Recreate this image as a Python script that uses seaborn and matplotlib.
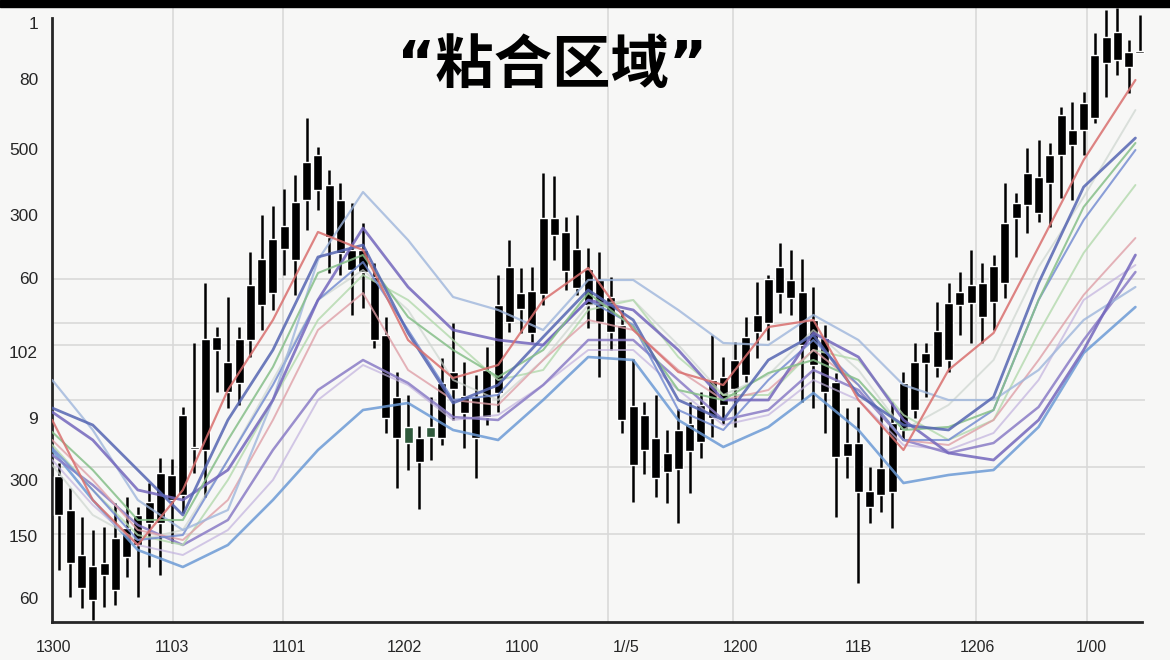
import numpy as np
import pandas as pd
import matplotlib.pyplot as plt
import seaborn as sns
from matplotlib.patches import Rectangle

# ---- candles (97 bars) ----
candle_high = [177, 152, 123, 110, 113, 137, 143, 133, 157, 182,
               181, 233, 297, 357, 313, 343, 313, 388, 425, 434,
               451, 465, 522, 493, 470, 457, 437, 417, 377, 323,
               268, 245, 214, 243, 282, 317, 278, 265, 293, 365,
               400, 372, 373, 467, 464, 423, 425, 392, 388, 363,
               330, 281, 238, 245, 210, 231, 238, 248, 305, 283,
               298, 323, 358, 365, 397, 390, 381, 353, 315, 267,
               232, 233, 173, 227, 238, 268, 297, 297, 338, 357,
               368, 390, 377, 385, 457, 447, 492, 500, 497, 533,
               538, 548, 607, 630, 632, 600, 625]
candle_low = [70, 43, 32, 20, 33, 35, 63, 43, 73, 65,
              97, 127, 167, 143, 248, 232, 235, 283, 310, 330,
              365, 345, 410, 430, 367, 365, 325, 332, 292, 207,
              152, 170, 131, 180, 195, 220, 192, 162, 215, 228,
              308, 307, 298, 335, 380, 350, 345, 312, 263, 290,
              207, 138, 166, 143, 137, 117, 147, 182, 203, 216,
              213, 258, 282, 300, 327, 325, 238, 232, 207, 123,
              162, 57, 117, 128, 112, 200, 222, 243, 263, 268,
              305, 297, 297, 310, 342, 383, 407, 418, 413, 442,
              440, 485, 517, 543, 565, 547, 588]
body_top = [164, 130, 85, 74, 77, 102, 112, 125, 138, 167,
            165, 225, 193, 301, 303, 278, 301, 355, 381, 401,
            414, 438, 478, 485, 455, 440, 390, 390, 363, 305,
            243, 213, 202, 213, 257, 268, 244, 243, 270, 335,
            373, 347, 349, 422, 422, 408, 391, 371, 360, 343,
            315, 234, 225, 202, 187, 210, 216, 235, 260, 263,
            280, 303, 325, 361, 373, 360, 348, 320, 302, 258,
            197, 197, 149, 172, 217, 257, 278, 287, 309, 337,
            348, 355, 357, 374, 417, 437, 467, 463, 485, 525,
            510, 537, 585, 603, 608, 588, 588]
body_bottom = [125, 77, 52, 40, 65, 50, 83, 95, 117, 117,
               140, 145, 191, 190, 290, 248, 257, 300, 335, 347,
               391, 380, 440, 450, 403, 387, 370, 368, 300, 222,
               202, 197, 178, 203, 202, 251, 227, 202, 223, 247,
               318, 331, 307, 346, 405, 369, 352, 335, 318, 308,
               220, 175, 190, 162, 168, 171, 189, 198, 222, 235,
               251, 265, 308, 317, 347, 342, 295, 275, 248, 183,
               184, 148, 133, 145, 148, 210, 230, 277, 273, 280,
               335, 337, 323, 338, 357, 422, 435, 427, 457, 485,
               495, 510, 522, 577, 580, 573, 587]
green_bars = [31, 33]

# ---- moving-average style lines, read at these bar positions ----
ma_x = [-0.6, 3, 7, 11, 15, 19, 23, 27, 31, 35, 39, 43, 47,
        51, 55, 59, 63, 67, 71, 75, 79, 83, 87, 91, 95.6]
ma_red = [220, 140, 95, 150, 250, 320, 408, 390, 300, 262, 275, 340, 372,
          310, 268, 255, 313, 320, 240, 190, 270, 307, 393, 480, 560]
ma_pink = [200, 160, 110, 100, 140, 220, 310, 347, 270, 240, 235, 280, 320,
           310, 270, 240, 250, 290, 255, 200, 195, 220, 280, 345, 402]
ma_blue = [232, 215, 170, 125, 220, 290, 383, 395, 307, 237, 255, 303, 350,
           320, 240, 220, 280, 305, 245, 215, 210, 243, 357, 453, 502]
ma_green = [208, 170, 120, 120, 200, 273, 367, 385, 323, 290, 263, 290, 347,
            313, 250, 240, 267, 280, 260, 210, 213, 230, 340, 433, 497]
ma_lightgreen = [195, 150, 105, 95, 160, 240, 320, 365, 340, 300, 260, 270, 330,
                 340, 283, 245, 245, 290, 280, 225, 200, 220, 307, 387, 455]
ma_purple = [185, 155, 115, 95, 120, 190, 250, 280, 257, 223, 220, 255, 300,
             300, 260, 220, 230, 270, 250, 200, 187, 197, 233, 300, 368]
ma_skyblue_low = [190, 140, 90, 73, 95, 140, 190, 230, 237, 210, 200, 240, 283,
                  280, 220, 193, 213, 247, 210, 157, 165, 170, 213, 287, 333]
ma_skyblue_top = [260, 210, 140, 110, 130, 240, 380, 448, 400, 343, 330, 310, 360,
                  360, 330, 297, 295, 325, 300, 255, 240, 240, 270, 320, 353]
ma_violet = [228, 200, 150, 140, 170, 240, 340, 412, 353, 310, 300, 295, 340,
             330, 290, 240, 240, 307, 283, 220, 187, 180, 220, 290, 385]
ma_grey = [175, 125, 100, 110, 180, 260, 340, 370, 330, 260, 240, 280, 335,
           340, 295, 245, 265, 310, 270, 210, 235, 280, 373, 443, 530]
ma_lavender = [180, 135, 95, 85, 110, 160, 240, 275, 255, 220, 225, 255, 290,
               290, 250, 215, 225, 260, 240, 195, 190, 207, 260, 340, 375]
ma_midblue = [192, 150, 100, 105, 180, 255, 340, 378, 310, 240, 245, 295, 340,
              315, 230, 210, 260, 300, 255, 200, 200, 230, 340, 420, 490]

# axis labels as printed on the chart
ytick_pos = [617, 561, 491, 425, 362, 288, 222, 160, 104, 42]
ytick_labels = ["1", "80", "500", "300", "60", "102", "9", "300", "150", "60"]
xtick_pos = [-0.45, 10.0, 20.4, 30.7, 41.1, 50.4, 60.5, 71.0, 81.6, 91.7]
xtick_labels = ["1300", "1103", "1101", "1202", "1100", "1//5", "1200", "11Ƀ", "1206", "1/00"]
grid_y = [617, 561, 491, 425, 361, 317, 295, 240, 173, 106, 42]
grid_x = [10.1, 19.9, 30.7, 48.8, 59.9, 81.4, 91.3]

title = "“粘合区域”"

sns.set_theme(style="white")
plt.rcParams['font.family'] = ['Liberation Sans', 'DejaVu Sans', 'Noto Sans CJK SC']

bg = "#f7f7f6"
fig = plt.figure(figsize=(11.7, 6.6), dpi=100, facecolor=bg)
ax = fig.add_axes([52 / 1170, 38 / 660, 1093 / 1170, 622 / 660])
ax.set_facecolor(bg)

# candles
idx = np.arange(len(candle_high))
ax.vlines(idx, candle_low, candle_high, color="black", lw=1.8, zorder=3)
top = np.array(body_top, dtype=float)
bot = np.array(body_bottom, dtype=float)
heights = np.maximum(top - bot, 1.8)
colors = ["#2f5a3c" if i in green_bars else "black" for i in idx]
ax.bar(idx, heights, bottom=bot, width=0.8, color=colors, zorder=4)

# lines
styles = [
    (ma_skyblue_low, "#6c9bd6", 1.9, 0.85),
    (ma_lavender, "#c2b2de", 1.4, 0.7),
    (ma_purple, "#8a7cc6", 1.8, 0.85),
    (ma_grey, "#cdd5cf", 1.4, 0.7),
    (ma_lightgreen, "#b3d9ad", 1.4, 0.8),
    (ma_pink, "#dfa0a8", 1.4, 0.8),
    (ma_midblue, "#6f88d0", 1.5, 0.8),
    (ma_skyblue_top, "#9fb6dc", 1.6, 0.8),
    (ma_violet, "#7467bd", 2.0, 0.85),
    (ma_green, "#86bf89", 1.5, 0.85),
    (ma_blue, "#5565b2", 2.0, 0.85),
    (ma_red, "#d96f6e", 1.6, 0.85),
]
for vals, col, lw, a in styles:
    df = pd.DataFrame({"x": ma_x, "y": vals})
    sns.lineplot(data=df, x="x", y="y", color=col, lw=lw, alpha=a, ax=ax, zorder=5)

ax.set_xlim(-0.62, 96.45)
ax.set_ylim(18, 640)
ax.set_xlabel("")
ax.set_ylabel("")

ax.set_yticks(ytick_pos, ytick_labels, fontsize=12.5)
ax.set_xticks(xtick_pos, xtick_labels, fontsize=11.5)
ax.set_yticks(grid_y, minor=True)
ax.set_xticks(grid_x, minor=True)
ax.grid(which="minor", color="#d9d9d9", lw=1.2)
ax.grid(which="major", visible=False)
ax.tick_params(which="minor", length=0)
ax.tick_params(which="major", length=6, width=1.6, color="black", pad=4)
ax.tick_params(axis="x", pad=7)

for s in ["top", "right"]:
    ax.spines[s].set_visible(False)
ax.spines["left"].set_linewidth(2)
ax.spines["bottom"].set_linewidth(2)
ax.spines["left"].set_bounds(18, 622)
ax.spines["bottom"].set_bounds(-0.62, 96.2)

fig.text(0.472, 0.9, title, ha="center", va="center", fontsize=42, fontweight="bold",
         family=["DejaVu Sans", "Noto Sans CJK SC"], color="black", zorder=10)

fig.patches.append(Rectangle((0, 1 - 7 / 660), 1, 7 / 660, transform=fig.transFigure,
                             color="black", zorder=20))

fig.savefig("out.png", dpi=100, facecolor=bg)
